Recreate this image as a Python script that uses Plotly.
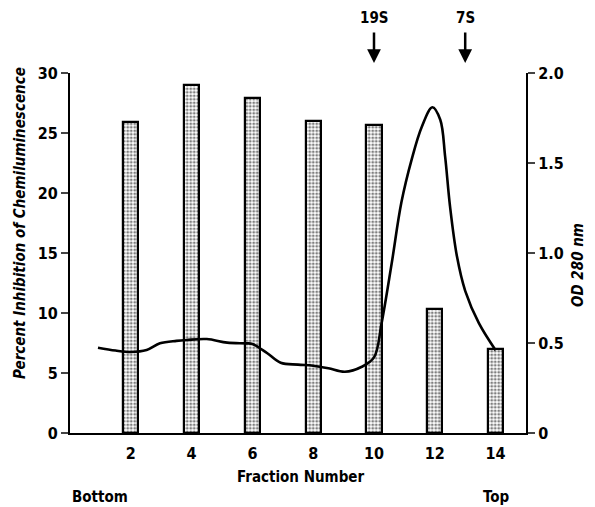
import plotly.graph_objects as go

# Data
fractions = [2, 4, 6, 8, 10, 12, 14]
inhibition = [25.9, 29.0, 27.9, 26.0, 25.7, 10.35, 7.0]

od_x = [0.92, 1.5, 2.0, 2.52, 2.96, 3.5, 3.84, 4.5, 5.17, 5.8, 6.0, 6.49, 6.93, 7.5, 8.0, 8.5,
        9.04, 9.6, 10.0, 10.25, 10.58, 10.9, 11.24, 11.57, 11.92, 12.18, 12.34, 12.5, 12.73,
        13.0, 13.45, 14.0]
od_y = [0.474, 0.458, 0.45, 0.461, 0.498, 0.512, 0.517, 0.522, 0.502, 0.498, 0.495, 0.443, 0.39,
        0.38, 0.374, 0.36, 0.34, 0.368, 0.42, 0.61, 0.94, 1.28, 1.52, 1.70, 1.81, 1.74, 1.535,
        1.26, 0.98, 0.79, 0.61, 0.46]

left_ticks = [0, 5, 10, 15, 20, 25, 30]
right_ticks = [0, 0.5, 1.0, 1.5, 2.0]
right_labels = ["0", "0.5", "1.0", "1.5", "2.0"]
x_ticks = [2, 4, 6, 8, 10, 12, 14]
markers = [(10, "19S"), (13, "7S")]

FONT = "DejaVu Sans Condensed, Liberation Sans Narrow, Arial"

# page body has an 8px margin; compensate
OFF = 8
W, H = 595 - OFF, 507 - OFF
# target plot box in screenshot pixels
PX0, PX1, PY0, PY1 = 70, 526, 73, 433
L, R, T, B = PX0 - OFF, W - (PX1 - OFF), PY0 - OFF, H - (PY1 - OFF)
pw, ph = W - L - R, H - T - B


def px(x):
    return (x - PX0) / pw


def py(y):
    return (PY1 - y) / ph


fig = go.Figure()
fig.add_trace(go.Bar(
    x=fractions, y=inhibition, width=0.5,
    marker=dict(color="white", line=dict(color="black", width=2.2),
                pattern=dict(shape=".", fgcolor="black", bgcolor="white", size=3.5, solidity=0.5)),
    yaxis="y", showlegend=False))
fig.add_trace(go.Scatter(
    x=od_x, y=od_y, mode="lines", line=dict(color="black", width=2.6, shape="spline", smoothing=1.0),
    yaxis="y2", showlegend=False))

tf = dict(size=16, family=FONT, weight="bold")
fig.update_layout(
    width=W, height=H,
    margin=dict(l=L, r=R, t=T, b=B, autoexpand=False),
    paper_bgcolor="white", plot_bgcolor="white",
    font=dict(family=FONT, size=15, color="black"),
    xaxis=dict(range=[0, 15], tickvals=x_ticks, ticks="", showline=True, linecolor="black",
               linewidth=2, showgrid=False, zeroline=False, tickfont=tf, ticklabelstandoff=5),
    yaxis=dict(range=[0, 30], tickvals=left_ticks, ticks="outside", ticklen=7, tickwidth=2,
               showline=True, linecolor="black", linewidth=2, showgrid=False, zeroline=False,
               tickfont=tf),
    yaxis2=dict(range=[0, 2], tickvals=right_ticks, ticktext=right_labels, overlaying="y",
                side="right", ticks="outside", ticklen=7, tickwidth=2, showline=True,
                linecolor="black", linewidth=2, showgrid=False, zeroline=False, tickfont=tf),
    bargap=0,
)

base = dict(xref="paper", yref="paper", xanchor="center", yanchor="middle", showarrow=False)
out = [
    dict(base, text="<b><i>Percent Inhibition of Chemiluminescence</i></b>", x=px(20), y=py(223),
         textangle=-90, font=dict(size=15)),
    dict(base, text="<b><i>OD 280 nm</i></b>", x=px(578), y=py(265), textangle=-90,
         font=dict(size=15)),
    dict(base, text="<b>Fraction Number</b>", x=px(300), y=py(477), font=dict(size=15)),
    dict(base, text="<b>Bottom</b>", x=px(100), y=py(497), font=dict(size=15)),
    dict(base, text="<b>Top</b>", x=px(496), y=py(497), font=dict(size=15)),
]
for fx, lab in markers:
    out.append(dict(base, text="<b>%s</b>" % lab, x=fx, xref="x", y=py(18), font=dict(size=15)))
    out.append(dict(text="", x=fx, xref="x", y=py(63), yref="paper",
                    showarrow=True, ax=0, ay=-32, arrowhead=2, arrowsize=1.1, arrowwidth=2.5,
                    arrowcolor="black"))
fig.update_layout(annotations=out)

fig.write_html("out.html")
